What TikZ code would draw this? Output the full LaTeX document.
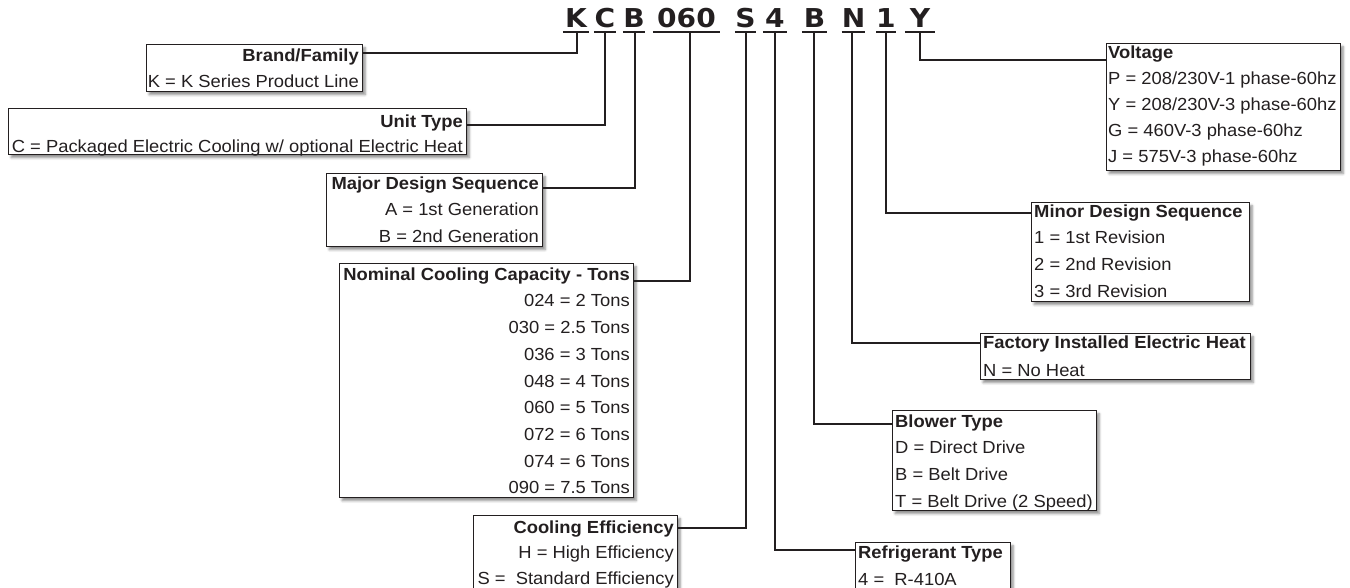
\documentclass[tikz,border=0pt]{standalone}
\usepackage{fontspec}
\setmainfont{Liberation Sans}
\newfontfamily\boxfont[FakeStretch=1.05]{Liberation Sans}
\newfontfamily\codefont[FakeStretch=1.08]{DejaVu Sans}
\usetikzlibrary{calc,shadows,shadows.blur}
\definecolor{ink}{HTML}{231F20}
\newcommand\topstr{\rule{0pt}{14.5pt}}
\begin{document}
\begin{tikzpicture}[x=1pt,y=-1pt,
  box/.style={draw=ink,line width=1.3pt,fill=white,inner sep=0pt,anchor=north west,
    blur shadow={shadow xshift=2.5pt,shadow yshift=-3pt,shadow blur steps=5,shadow blur radius=2.5pt,shadow opacity=45}},
  txt/.style={text=ink,inner sep=0pt,font=\boxfont\fontsize{17.5}{#1}\selectfont},
  rtxt/.style={txt=#1,align=right,anchor=north east},
  ltxt/.style={txt=#1,align=left,anchor=north west},
  code/.style={text=ink,font=\codefont\bfseries\fontsize{26}{26}\selectfont,inner xsep=0pt,inner ysep=0pt,text depth=0pt,anchor=base},
  uline/.style={draw=ink,line width=2pt},
  conn/.style={draw=ink,line width=2.3pt}
]
\useasboundingbox (0,0) rectangle (1350,587);
\clip (0,0) rectangle (1350,587);

% code letters
\node[code,minimum width=26pt] (cK) at (576,27) {K};
\node[code,minimum width=22pt] (cC) at (605,27) {C};
\node[code,minimum width=22pt] (cB) at (634,27) {B};
\node[code,minimum width=67pt] (cNum) at (686.5,27) {060};
\node[code,minimum width=21pt] (cS) at (745.5,27) {S};
\node[code,minimum width=24pt] (cFour) at (775,27) {4};
\node[code,minimum width=25pt] (cB2) at (814.5,27) {B};
\node[code,minimum width=23pt] (cN) at (853.5,27) {N};
\node[code,minimum width=18pt] (cOne) at (886,27) {1};
\node[code,minimum width=30pt] (cY) at (920,27) {Y};
\foreach \n in {cK,cC,cB,cNum,cS,cFour,cB2,cN,cOne,cY}
  \draw[uline] ([yshift=-5pt]\n.base west) -- ([yshift=-5pt]\n.base east);

\coordinate (uK) at (577,32);
\coordinate (uC) at (605,32);
\coordinate (uB) at (635,32);
\coordinate (uNum) at (690,32);
\coordinate (uS) at (746,32);
\coordinate (uFour) at (775,32);
\coordinate (uB2) at (814,32);
\coordinate (uN) at (852,32);
\coordinate (uOne) at (886,32);
\coordinate (uY) at (920,32);

% boxes
\node[box,minimum width=216pt,minimum height=47pt] (brand) at (146,44) {};
\node[box,minimum width=458pt,minimum height=46pt] (unit) at (8,108) {};
\node[box,minimum width=216pt,minimum height=73pt] (major) at (326,173) {};
\node[box,minimum width=294pt,minimum height=234pt] (nominal) at (339,263) {};
\node[box,minimum width=204pt,minimum height=80pt] (cooleff) at (473,515) {};
\node[box,minimum width=155pt,minimum height=60pt] (refrig) at (855,542) {};
\node[box,minimum width=204pt,minimum height=100pt] (blower) at (892,410) {};
\node[box,minimum width=270pt,minimum height=46pt] (factory) at (980,333) {};
\node[box,minimum width=218pt,minimum height=99pt] (minor) at (1031,202) {};
\node[box,minimum width=234pt,minimum height=127pt] (voltage) at (1106,43) {};

% texts
\node[rtxt=26] (brandT) at (359,46.5) {\topstr\textbf{Brand/Family}\\K = K Series Product Line};
\node[rtxt=25] (unitT) at (463,112.5) {\topstr\textbf{Unit Type}\\C = Packaged Electric Cooling w/ optional Electric Heat};
\node[rtxt=26.5] (majorT) at (539,174.5) {\topstr\textbf{Major Design Sequence}\\A = 1st Generation\\B = 2nd Generation};
\node[rtxt=26.7] (nominalT) at (630,265.5) {\topstr\textbf{Nominal Cooling Capacity - Tons}\\024 = 2 Tons\\030 = 2.5 Tons\\036 = 3 Tons\\048 = 4 Tons\\060 = 5 Tons\\072 = 6 Tons\\074 = 6 Tons\\090 = 7.5 Tons};
\node[rtxt=25.5] (cooleffT) at (674,518.5) {\topstr\textbf{Cooling Efficiency}\\H = High Efficiency\\S = \ Standard Efficiency};
\node[ltxt=27] (refrigT) at (858,543.5) {\topstr\textbf{Refrigerant Type}\\4 = \ R-410A};
\node[ltxt=26.7] (blowerT) at (895,412.5) {\topstr\textbf{Blower Type}\\D = Direct Drive\\B = Belt Drive\\T = Belt Drive (2 Speed)};
\node[ltxt=28] (factoryT) at (983,333.5) {\topstr\textbf{Factory Installed Electric Heat}\\N = No Heat};
\node[ltxt=26.7] (minorT) at (1034,202.5) {\topstr\textbf{Minor Design Sequence}\\1 = 1st Revision\\2 = 2nd Revision\\3 = 3rd Revision};
\node[ltxt=26] (voltageT) at (1108,43.5) {\topstr\textbf{Voltage}\\P = 208/230V-1 phase-60hz\\Y = 208/230V-3 phase-60hz\\G = 460V-3 phase-60hz\\J = 575V-3 phase-60hz};

% connectors
\draw[conn] (uK) |- ($(brand.north east)+(0,9)$);
\draw[conn] (uC) |- ($(unit.north east)+(0,17)$);
\draw[conn] (uB) |- ($(major.north east)+(0,15)$);
\draw[conn] (uNum) |- ($(nominal.north east)+(0,18)$);
\draw[conn] (uS) |- ($(cooleff.north east)+(0,13)$);
\draw[conn] (uFour) |- ($(refrig.north west)+(0,8)$);
\draw[conn] (uB2) |- ($(blower.north west)+(0,14)$);
\draw[conn] (uN) |- ($(factory.north west)+(0,10)$);
\draw[conn] (uOne) |- ($(minor.north west)+(0,11)$);
\draw[conn] (uY) |- ($(voltage.north west)+(0,17)$);
\end{tikzpicture}
\end{document}
